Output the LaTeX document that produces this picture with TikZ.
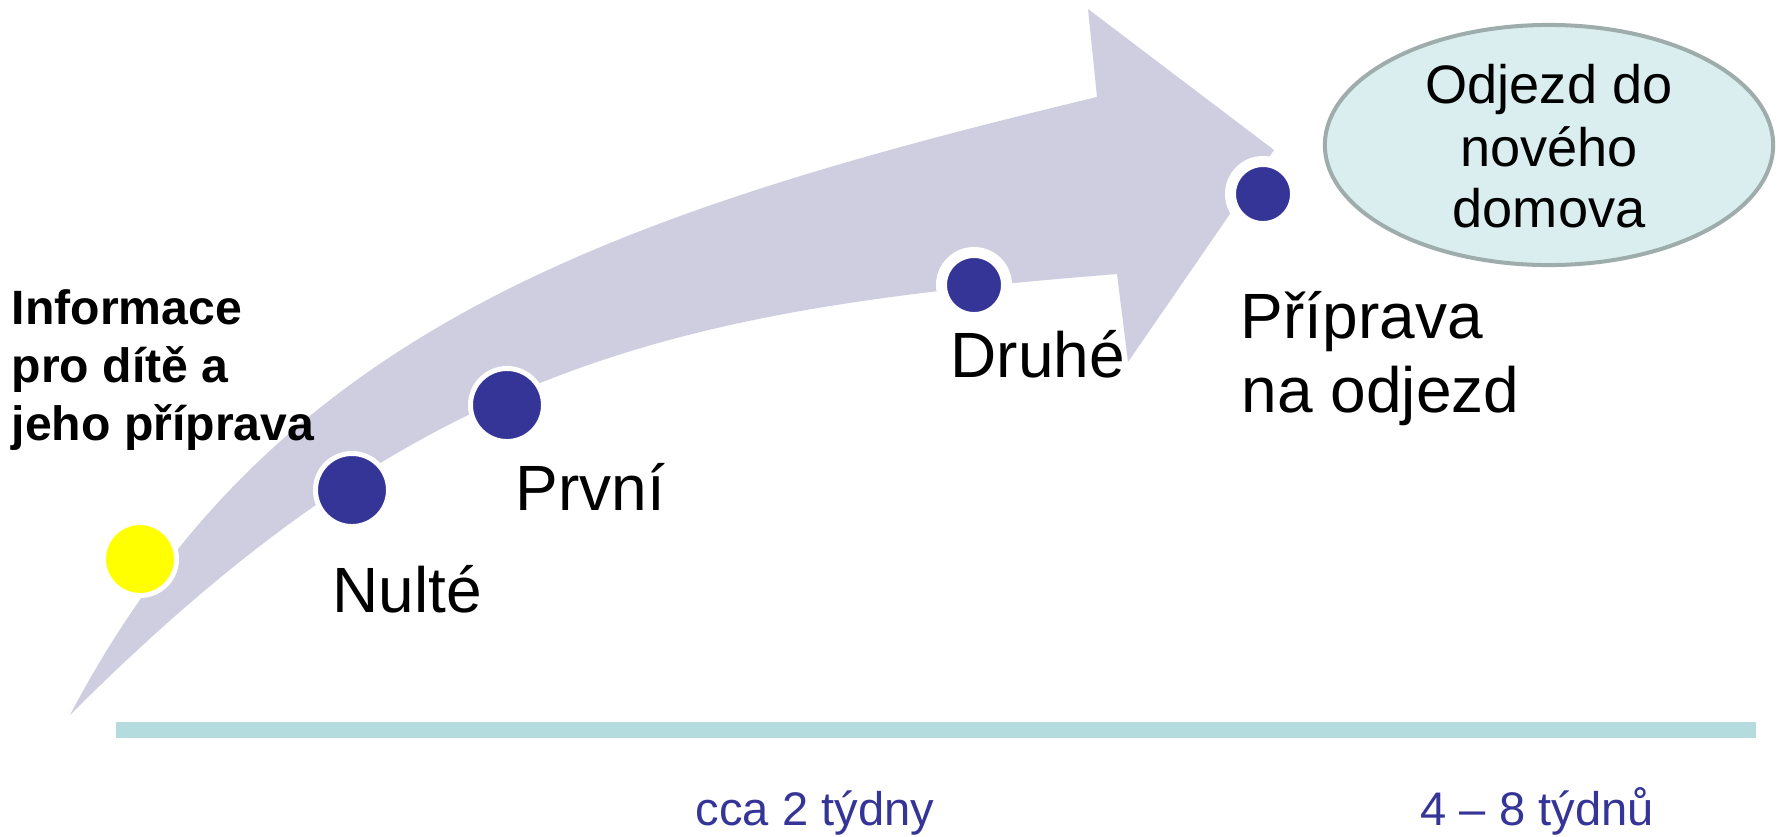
\documentclass[tikz,border=0pt]{standalone}
\usepackage{fontspec}
\setmainfont{Liberation Sans}
\usetikzlibrary{shapes.geometric}
\definecolor{band}{HTML}{CECEE0}
\definecolor{dotblue}{HTML}{353598}
\definecolor{barcol}{HTML}{B4DCDF}
\definecolor{ellfill}{HTML}{DAEEF0}
\definecolor{elldraw}{HTML}{9EADAB}
\definecolor{dotyellow}{HTML}{FFFF00}
\begin{document}
\begin{tikzpicture}[x=0.01cm,y=-0.01cm,
  lbl/.style={font=\fontsize{18.2}{21}\selectfont, anchor=base west, inner sep=0},
  boldlbl/.style={font=\fontsize{13.7}{16.5}\selectfont\bfseries, anchor=base west, inner sep=0},
  elllbl/.style={font=\fontsize{15.4}{17.6}\selectfont, anchor=base, inner sep=0},
  timelbl/.style={font=\fontsize{13.4}{16}\selectfont, text=dotblue, anchor=base west, inner sep=0},
  bigdot/.style={circle, draw=white, line width=0.05cm, minimum size=0.73cm, inner sep=0},
  smalldot/.style={circle, draw=white, line width=0.11cm, minimum size=0.65cm, inner sep=0},
  goalbox/.style={ellipse, draw=elldraw, fill=ellfill, line width=0.04cm, minimum width=4.48cm, minimum height=2.40cm, inner sep=0}]
\useasboundingbox (0,0) rectangle (1779,836);
\fill[white] (0,0) rectangle (1779,836);
% curved arrow band
\fill[band] (70,715) .. controls (270,335) and (597,217) .. (1097,97)
  -- (1088,9) -- (1274,150) -- (1128,362) -- (1117,274)
  .. controls (667,310) and (420,365) .. (70,715) -- cycle;
% time bar
\fill[barcol] (116,722) rectangle (1756,738);
% dots
\node[bigdot, fill=dotyellow] (d0) at (140,559) {};
\node[bigdot, fill=dotblue] (d1) at (352,490) {};
\node[bigdot, fill=dotblue] (d2) at (507,405) {};
\node[smalldot, fill=dotblue] (d3) at (974,285) {};
\node[smalldot, fill=dotblue] (d4) at (1263,194) {};
% goal ellipse
\node[goalbox] (goal) at (1549,145) {};
\node[elllbl] (g1) at (1549,103) {Odjezd do};
\node[elllbl] (g2) at (1549,166) {nového};
\node[elllbl] (g3) at (1549,227) {domova};
% labels
\node[boldlbl] (i1) at (11,324) {Informace};
\node[boldlbl] (i2) at (11,382) {pro dítě a};
\node[boldlbl] (i3) at (11,440) {jeho příprava};
\node[lbl] (nulte) at (332,612) {Nulté};
\node[lbl] (prvni) at (515,510) {První};
\node[lbl] (druhe) at (950,377) {Druhé};
\node[lbl] (prip1) at (1240,338) {Příprava};
\node[lbl] (prip2) at (1241,412) {na odjezd};
% time labels
\node[timelbl] (t1) at (695,825) {cca 2 týdny};
\node[timelbl] (t2) at (1420,825) {4 – 8 týdnů};
\end{tikzpicture}
\end{document}
